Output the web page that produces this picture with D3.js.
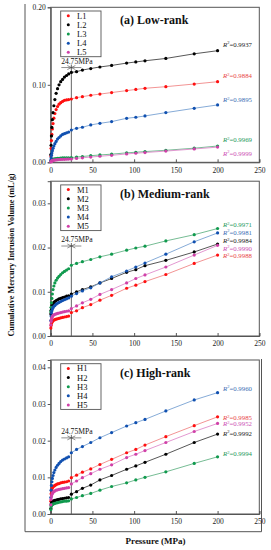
<!DOCTYPE html>
<html><head><meta charset="utf-8">
<script src="https://cdn.jsdelivr.net/npm/d3@7"></script>
<style>body{margin:0;background:#fff}svg{display:block}text{font-family:"Liberation Serif","Times New Roman",serif}</style>
</head><body><svg id="c" width="271" height="550"></svg>
<script>
// ---------- DATA ----------
const pressLow  = [0.2,0.5,0.9,1.4,2,2.8,3.8,5,6.5,8.2,10,12,14.2,16.5,19,21.5];
const pressHigh = [24.75,31,38,48,59,73,91,102,113,138,172,200];
const xTicks = [0,50,100,150,200,250];

const L1 = [0.008,0.018,0.028,0.036,0.043,0.050,0.057,0.063,0.068,0.072,0.075,0.077,0.0785,0.080,0.0805,0.081,
            0.0817,0.0834,0.0847,0.0865,0.088,0.090,0.0925,0.094,0.0955,0.0976,0.101,0.104];
const L2 = [0.010,0.022,0.034,0.045,0.055,0.064,0.073,0.081,0.089,0.095,0.100,0.104,0.107,0.110,0.112,0.114,
            0.116,0.117,0.119,0.121,0.123,0.125,0.128,0.1295,0.131,0.134,0.140,0.144];
const L3 = [0.001,0.0018,0.0024,0.003,0.0034,0.0038,0.0041,0.0044,0.0047,0.005,0.0052,0.0054,0.0056,0.0057,0.0058,0.0059,
            0.006,0.0068,0.0075,0.0085,0.0095,0.0105,0.0122,0.013,0.0138,0.0155,0.0182,0.021];
const L4 = [0.003,0.006,0.009,0.012,0.015,0.018,0.021,0.024,0.027,0.030,0.032,0.034,0.036,0.037,0.038,0.039,
            0.0417,0.0439,0.0452,0.0482,0.0503,0.0525,0.0568,0.0581,0.0598,0.0641,0.0697,0.074];
const L5 = [0.0005,0.001,0.0014,0.0018,0.0021,0.0024,0.0027,0.003,0.0032,0.0034,0.0036,0.0037,0.0038,0.0039,0.004,0.0041,
            0.0042,0.005,0.0058,0.0068,0.0078,0.009,0.0108,0.0117,0.0126,0.0145,0.0172,0.0196];

const M1 = [0.0018,0.0024,0.0028,0.0031,0.0033,0.0035,0.0036,0.0037,0.0038,0.0039,0.004,0.0041,0.0042,0.0043,0.0044,0.0045,
            0.0053,0.0057,0.0064,0.0071,0.0081,0.0092,0.0108,0.0115,0.0123,0.0139,0.0164,0.0183];
const M2 = [0.005,0.0058,0.0064,0.0068,0.0071,0.0074,0.0076,0.0078,0.008,0.0082,0.0084,0.0085,0.0087,0.0088,0.009,0.0091,
            0.0095,0.010,0.0105,0.0111,0.012,0.013,0.0144,0.015,0.0159,0.0171,0.019,0.0208];
const M3 = [0.0055,0.0065,0.0075,0.0085,0.0095,0.0105,0.0113,0.012,0.0126,0.0131,0.0135,0.0139,0.0143,0.0146,0.0149,0.0152,
            0.016,0.0164,0.0168,0.0173,0.0179,0.0185,0.0194,0.0199,0.0203,0.0215,0.0229,0.0243];
const M4 = [0.0035,0.0045,0.0052,0.0057,0.0061,0.0064,0.0067,0.0069,0.0072,0.0074,0.0076,0.0078,0.008,0.0082,0.0084,0.0086,
            0.009,0.0096,0.0102,0.0109,0.012,0.0134,0.0147,0.0156,0.0165,0.0185,0.0213,0.0233];
const M5 = [0.0025,0.0033,0.0038,0.0041,0.0044,0.0046,0.0048,0.0049,0.005,0.0051,0.0052,0.0053,0.0054,0.0055,0.0056,0.0057,
            0.0062,0.0068,0.0075,0.0083,0.0094,0.0105,0.012,0.013,0.0138,0.0156,0.0183,0.0205];

const H1 = [0.0035,0.0055,0.0063,0.0068,0.0071,0.0074,0.0076,0.0078,0.008,0.0082,0.0083,0.0085,0.0086,0.0087,0.0088,0.009,
            0.0099,0.0106,0.0114,0.0123,0.0135,0.0149,0.0167,0.0176,0.0188,0.0211,0.0241,0.0265];
const H2 = [0.0015,0.0025,0.0029,0.0032,0.0034,0.0035,0.0036,0.0037,0.0038,0.0039,0.004,0.0041,0.0042,0.0043,0.0044,0.0045,
            0.0054,0.0061,0.007,0.0079,0.0093,0.0105,0.0122,0.0131,0.0141,0.0163,0.0195,0.0218];
const H3 = [0.0012,0.002,0.0023,0.0025,0.0026,0.0027,0.0028,0.0029,0.003,0.0031,0.0032,0.0033,0.0034,0.0035,0.0035,0.0036,
            0.0041,0.0045,0.005,0.0056,0.0065,0.0075,0.0085,0.0093,0.010,0.0115,0.0138,0.0156];
const H4 = [0.0045,0.0065,0.0078,0.0088,0.0097,0.0105,0.0113,0.012,0.0127,0.0133,0.0138,0.0143,0.0147,0.015,0.0153,0.0156,
            0.0167,0.0176,0.0184,0.0195,0.0208,0.0222,0.024,0.0249,0.0258,0.0281,0.0311,0.0331];
const H5 = [0.0025,0.004,0.0048,0.0053,0.0056,0.0059,0.0061,0.0063,0.0065,0.0066,0.0067,0.0068,0.0069,0.007,0.0071,0.0072,
            0.0082,0.009,0.0099,0.011,0.0122,0.0134,0.0154,0.0163,0.0173,0.0195,0.0225,0.0247];

const namesA = ["L1","L2","L3","L4","L5"], namesB = ["M1","M2","M3","M4","M5"], namesC = ["H1","H2","H3","H4","H5"];
const r2A = ["0.9884","0.9937","0.9969","0.9895","0.9999"];
const r2B = ["0.9988","0.9984","0.9971","0.9981","0.9990"];
const r2C = ["0.9985","0.9992","0.9994","0.9960","0.9952"];
const r2PosA = [0.1114,0.1523,0.0288,0.0804,0.0116];
const r2PosB = [0.01809,0.02148,0.0251,0.02336,0.01983];
const r2PosC = [0.02625,0.0220,0.01636,0.03427,0.02454];
const yTicksA = [0,0.1,0.2], yTicksB = [0,0.01,0.02,0.03], yTicksC = [0,0.01,0.02,0.03,0.04];
const titles = ["(a) Low-rank","(b) Medium-rank","(c) High-rank"];

// ---------- STYLE ----------
const markerCol = ["#ff1010","#000000","#109a4e","#1050b0","#d040a8"];
const lineCol   = ["#f08888","#444444","#66b488","#78a2d2","#e08ccc"];
const textCol   = ["#e84848","#222222","#24985a","#3c6eb4","#cc50b4"];
const pressAll = pressLow.concat(pressHigh);

const svg = d3.select("#c");
const X0 = 50.7, X1 = 259.3;
const panels = [
  {names:namesA, series:[L1,L2,L3,L4,L5], r2:r2A, r2y:r2PosA, ticks:yTicksA, dom:[0,0.2],   top:7.3,  bot:162.3, ann:0.130,  title:titles[0]},
  {names:namesB, series:[M1,M2,M3,M4,M5], r2:r2B, r2y:r2PosB, ticks:yTicksB, dom:[0,0.035], top:181.2, bot:336,  ann:0.0217, title:titles[1]},
  {names:namesC, series:[H1,H2,H3,H4,H5], r2:r2C, r2y:r2PosC, ticks:yTicksC, dom:[0,0.042], top:360,  bot:514,   ann:0.0224, title:titles[2]}
];

// outer frame
svg.append("path").attr("d",`M25,4V531.7H261.5V359`).attr("fill","none").attr("stroke","#555").attr("stroke-width",1);

panels.forEach(p => {
  const x = d3.scaleLinear().domain([0,250]).range([X0,X1]);
  const y = d3.scaleLinear().domain(p.dom).range([p.bot,p.top]);
  const g = svg.append("g");
  g.append("rect").attr("x",X0).attr("y",p.top).attr("width",X1-X0).attr("height",p.bot-p.top)
    .attr("fill","none").attr("stroke","#555").attr("stroke-width",1);
  const xa = g.append("g").attr("transform",`translate(0,${p.bot})`)
    .call(d3.axisBottom(x).tickValues(xTicks).tickSize(-3).tickPadding(5).tickFormat(d3.format("d")));
  const ya = g.append("g").attr("transform",`translate(${X0},0)`)
    .call(d3.axisLeft(y).tickValues(p.ticks).tickSize(3).tickPadding(2).tickFormat(d3.format(".2f")));
  [xa,ya].forEach(a=>{
    a.select(".domain").attr("stroke","#555");
    a.selectAll(".tick line").attr("stroke","#555");
    a.selectAll("text").attr("font-family","Liberation Serif").attr("font-size",7.5).attr("fill","#222");
  });
  // 24.75 MPa marker
  const xv = x(24.75), ya0 = y(p.ann);
  g.append("line").attr("x1",xv).attr("x2",xv).attr("y1",ya0+3).attr("y2",p.bot).attr("stroke","#555").attr("stroke-width",0.9);
  g.append("line").attr("x1",xv-10).attr("x2",xv+10).attr("y1",ya0+6).attr("y2",ya0+6).attr("stroke","#444").attr("stroke-width",0.6);
  g.append("path").attr("d",`M${xv-4},${ya0+4}L${xv},${ya0+6}L${xv-4},${ya0+8}M${xv+4},${ya0+4}L${xv},${ya0+6}L${xv+4},${ya0+8}`)
    .attr("fill","none").attr("stroke","#444").attr("stroke-width",0.6);
  g.append("text").attr("x",xv+5.5).attr("y",ya0+2).attr("text-anchor","middle").attr("font-size",7.6).attr("fill","#111").text("24.75MPa");
  // series
  p.series.forEach((s,i) => {
    const hi = pressHigh.map((pr,k)=>[pr, s[pressLow.length+k]]);
    g.append("path").datum(hi).attr("fill","none").attr("stroke",lineCol[i]).attr("stroke-width",0.9)
      .attr("d", d3.line().x(d=>x(d[0])).y(d=>y(d[1])));
  });
  p.series.forEach((s,i) => {
    g.append("g").selectAll("circle").data(s).join("circle")
      .attr("cx",(d,k)=>x(pressAll[k])).attr("cy",d=>y(d)).attr("r",1.6).attr("fill",markerCol[i]);
    const t = g.append("text").attr("x",x(206.5)).attr("y",y(p.r2y[i])+2.3).attr("font-size",6.8).attr("fill",textCol[i]);
    t.append("tspan").attr("font-style","italic").text("R");
    t.append("tspan").attr("font-size",4.5).attr("dy",-2.5).text("2");
    t.append("tspan").attr("dy",2.5).text("=" + p.r2[i]);
  });
  // legend
  const lg = g.append("g");
  lg.append("rect").attr("x",60.7).attr("y",p.top+3.7).attr("width",40.3).attr("height",45.7)
    .attr("fill","#fff").attr("stroke","#555").attr("stroke-width",0.9);
  p.names.forEach((n,i)=>{
    const yy = p.top + 8.4 + i*9.15;
    lg.append("circle").attr("cx",68.3).attr("cy",yy).attr("r",1.5).attr("fill",markerCol[i]);
    lg.append("text").attr("x",77).attr("y",yy+3).attr("font-size",8.5).attr("fill","#111").text(n);
  });
  g.append("text").attr("x",120).attr("y",p.top+17).attr("font-size",12).attr("font-weight","bold").attr("fill","#111").text(p.title);
});

svg.append("text").attr("transform","translate(14,255) rotate(-90)").attr("text-anchor","middle")
  .attr("font-size",8.2).attr("font-weight","bold").attr("fill","#111").text("Cumulative Mercury Intrusion Volume (mL/g)");
svg.append("text").attr("x",155.5).attr("y",543.5).attr("text-anchor","middle")
  .attr("font-size",9).attr("font-weight","bold").attr("fill","#111").text("Pressure (MPa)");
</script></body></html>
